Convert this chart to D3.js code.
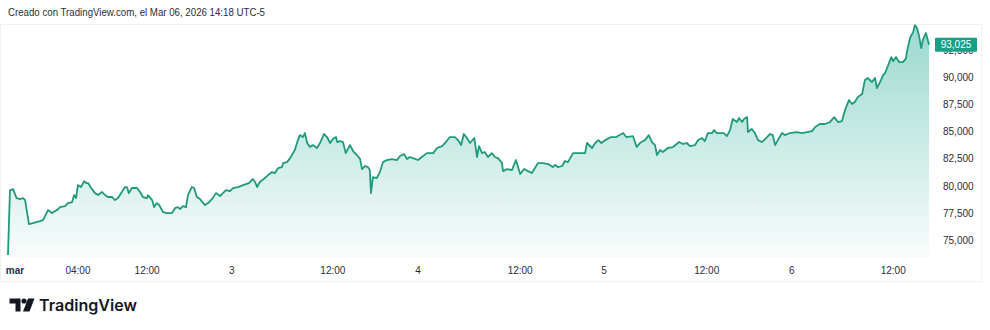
<!DOCTYPE html>
<html><head><meta charset="utf-8">
<script src="https://cdn.jsdelivr.net/npm/d3@7"></script>
<style>
html,body{margin:0;padding:0;background:#fff;}
svg{display:block;}
</style></head>
<body>
<svg id="c" width="990" height="330"></svg>
<script>
// ---- data ----
const bars = [0,0.5,1.3,2.2,3.1,3.9,4.4,5.4,6.4,8.2,9.0,10.3,11.3,12.6,13.4,14.7,15.4,16.5,17.0,17.5,18.0,18.8,19.6,20.1,20.6,21.4,22.4,23.2,24.2,25.0,25.7,26.8,27.5,28.3,29.3,30.1,30.6,31.1,31.9,33.2,34.0,34.7,35.8,36.0,37.1,37.6,38.3,38.9,39.9,40.9,42.2,43.0,43.7,44.3,45.0,45.8,46.3,47.3,47.9,48.6,49.4,50.7,51.5,52.7,53.5,54.6,55.3,56.1,57.1,57.9,59.2,60.5,62.0,63.0,63.6,64.1,64.8,66.1,66.9,67.9,68.7,69.5,70.5,70.8,71.8,72.6,73.8,74.6,75.1,75.9,76.4,77.0,77.7,78.5,79.5,80.3,81.3,82.1,82.9,83.6,84.4,84.7,85.4,86.2,86.9,88.0,88.8,89.8,90.6,91.1,91.9,92.6,93.1,93.4,93.9,94.9,95.7,96.5,97.5,98.8,100.1,100.9,101.9,102.7,103.4,104.2,105.5,106.5,107.8,109.4,110.4,111.7,112.9,113.7,115.0,115.8,116.6,117.3,118.1,118.9,120.0,120.7,121.2,122.0,122.7,123.5,124.5,125.3,126.1,127.1,127.4,128.4,129.7,130.7,131.8,132.8,133.8,134.8,135.6,136.4,137.7,139.0,140.2,140.8,141.5,142.6,143.3,144.1,145.4,146.7,148.5,149.0,150.3,151.1,151.9,152.7,153.7,155.2,156.5,158.3,159.1,160.8,161.8,162.6,163.9,164.9,165.7,166.5,167.0,167.8,168.5,169.8,171.1,172.7,173.7,174.7,175.5,176.8,177.6,178.6,179.3,180.1,181.2,181.7,182.4,183.2,184.2,185.0,185.8,186.5,187.6,188.1,188.9,189.4,190.2,190.4,191.4,192.2,193.0,194.0,195.3,196.1,196.8,197.4,198.1,199.2,199.9,201.2,203.0,204.3,205.6,206.9,207.7,208.9,210.2,211.5,212.6,213.6,214.6,215.4,216.4,217.2,217.9,218.7,219.8,220.5,221.3,222.3,223.1,223.6,224.4,225.2,225.7,226.5,227.3,227.8,228.5,229.3,230.3,231.1,231.3,232.1,232.9,233.4,233.9,234.4,235.0,235.4,236.2,237.0];
const prices = [73650,79600,79720,78890,78800,78890,78710,76490,76590,76770,76860,77790,77510,77790,78060,78150,78430,78520,79170,78890,80090,79910,80460,80280,80280,79820,79350,79170,79450,79170,78990,78990,78710,78890,79450,79910,79910,79350,79820,79820,79450,78990,78890,79170,78710,78060,78430,78250,77600,77510,77510,77970,78060,77880,78150,78060,79170,79910,79820,78990,78800,78250,78430,78890,79350,79080,79350,79630,79540,79820,79910,80090,80280,80650,80370,79910,80370,80740,81010,81290,81200,81660,81750,82120,82210,82580,83320,84240,84700,84520,84890,83970,83600,83780,83510,83970,84800,84520,83970,84340,84520,84060,84150,84060,83040,83780,83230,82860,82490,81570,81850,81750,81480,79350,80830,80740,81290,82210,82400,82490,82400,82770,82950,82490,82680,82580,82400,82680,83040,83040,83510,83690,84150,84520,84520,84240,83780,84800,84430,83970,84430,82680,83690,83040,83140,82680,83040,82680,82580,82120,81380,81570,81480,82400,81110,81570,81380,81200,81660,82120,82120,82030,81750,81940,81750,81850,82310,82210,83040,83040,83040,83970,83510,83970,84240,83970,84240,84520,84520,84890,84520,84610,83600,83970,84240,84700,84060,83780,82860,83320,83140,83510,83600,84060,83880,83970,83690,83780,84240,84430,84150,84890,84890,85160,84890,84890,84890,84610,85160,86180,85900,86270,85900,86180,86360,84980,85260,84890,84240,84060,84520,84800,84700,83780,84240,84890,84700,84890,84980,84890,84980,85070,85440,85720,85720,85900,86360,85900,85990,87010,87930,87560,87750,88210,88490,89770,89960,89590,89960,89030,89590,90230,90420,91150,91890,91520,91890,91430,91430,91800,92350,93640,94200,94840,94570,93920,92720,93460,94110,93025];
const priceTicks = [75000,77500,80000,82500,85000,87500,90000,92500];
const timeTickBars = [1.8,18.0,35.8,57.6,83.6,105.5,131.8,153.4,179.8,201.7,227.8];
const timeTickLabels = ["mar","04:00","12:00","3","12:00","4","12:00","5","12:00","6","12:00"];
const lastPrice = 93025;
const headerText = "Creado con TradingView.com, el Mar 06, 2026 14:18 UTC-5";

// ---- drawing ----
const svg = d3.select("#c");
const FONT = "'Liberation Sans', Arial, sans-serif";
const lineColor = "#1f9a7b";
const x = d3.scaleLinear().domain([0, 237]).range([8, 929]);
const y = d3.scaleLinear().domain([75000, 90000]).range([240.3, 77.6]);
const bottom = 258;

// frame
svg.append("rect").attr("x",0.5).attr("y",24.5).attr("width",981).attr("height",257)
  .attr("fill","#fff").attr("stroke","#f0f0f0");

svg.append("text").attr("x",8).attr("y",16).attr("font-family",FONT).attr("font-size",10)
  .attr("fill","#2a2e39").attr("textLength",257).attr("lengthAdjust","spacingAndGlyphs").text(headerText);

const defs = svg.append("defs");
const g = defs.append("linearGradient").attr("id","fillg")
  .attr("gradientUnits","userSpaceOnUse").attr("x1",0).attr("x2",0).attr("y1",25).attr("y2",bottom);
g.append("stop").attr("offset",0).attr("stop-color","#22ab94").attr("stop-opacity",0.45);
g.append("stop").attr("offset",1).attr("stop-color","#22ab94").attr("stop-opacity",0.03);

const pts = bars.map((b,i)=>[b,prices[i]]);
const area = d3.area().x(d=>x(d[0])).y0(bottom).y1(d=>y(d[1]));
svg.append("path").datum(pts).attr("d",area).attr("fill","url(#fillg)");
const line = d3.line().x(d=>x(d[0])).y(d=>y(d[1]));
svg.append("path").datum(pts).attr("d",line).attr("fill","none").attr("stroke",lineColor)
  .attr("stroke-width",1.8).attr("stroke-linejoin","round");

// price axis (the 92,500 tick sits partly under the last-price label, as in the reference)
const yAxis = svg.append("g");
yAxis.selectAll("text").data(priceTicks).join("text")
  .attr("x",943).attr("y",d=>y(d)+3.5).attr("font-family",FONT).attr("font-size",10)
  .attr("fill","#2a2e39").text(d=>d3.format(",")(d));

// last price label
const ly = y(lastPrice);
svg.append("rect").attr("x",935).attr("y",ly-7).attr("width",42).attr("height",14)
  .attr("fill","#16a085").attr("rx",1);
svg.append("text").attr("x",956).attr("y",ly+3.6).attr("text-anchor","middle")
  .attr("font-family",FONT).attr("font-size",10).attr("fill","#fff").text(d3.format(",")(lastPrice));

// time axis
svg.append("g").selectAll("text").data(timeTickBars).join("text")
  .attr("x",d=>x(d)).attr("y",274).attr("text-anchor","middle")
  .attr("font-family",FONT).attr("font-size",10)
  .attr("font-weight",(d,i)=>timeTickLabels[i]==="mar"?"bold":"normal")
  .attr("fill","#2a2e39").text((d,i)=>timeTickLabels[i]);

// logo
const logo = svg.append("g").attr("fill","#131722");
logo.append("path").attr("d","M9.5,298.5 H20.5 V311.5 H15.5 V303.5 H9.5 Z");
logo.append("circle").attr("cx",24).attr("cy",301).attr("r",2.6);
logo.append("path").attr("d","M28,298.5 H34.5 L29.5,311.5 H23 Z");
svg.append("text").attr("x",39).attr("y",311).attr("font-family","Inter, 'Open Sans', sans-serif")
  .attr("font-size",16).attr("font-weight",600).attr("fill","#131722")
  .attr("textLength",98).attr("lengthAdjust","spacingAndGlyphs").text("TradingView");
</script>
</body></html>
